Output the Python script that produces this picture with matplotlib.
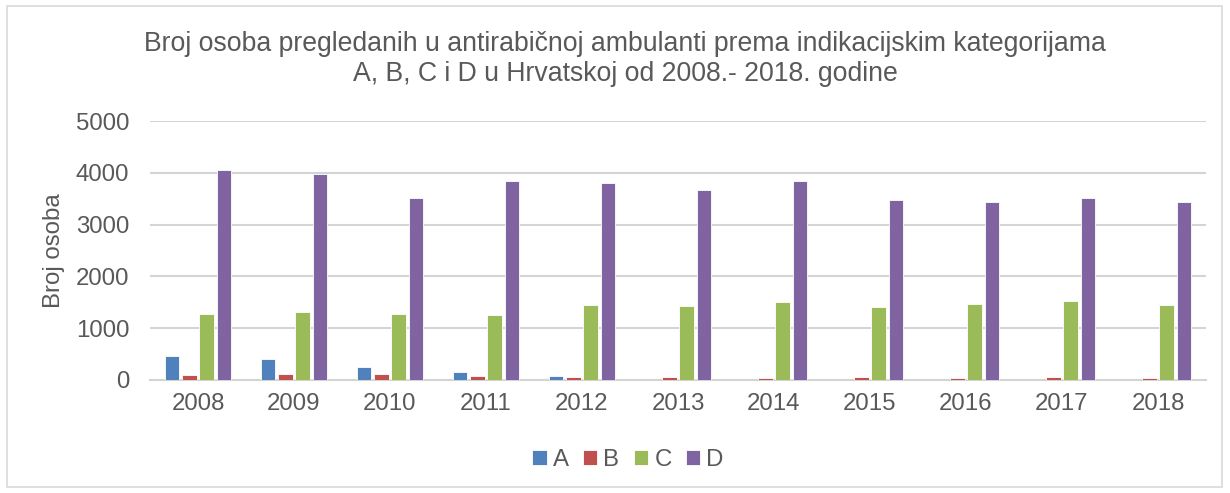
import matplotlib
matplotlib.use("Agg")
import matplotlib.pyplot as plt
import numpy as np
from matplotlib.patches import Rectangle

plt.rcParams['font.family'] = ['Liberation Sans', 'DejaVu Sans']

years = ['2008', '2009', '2010', '2011', '2012', '2013', '2014', '2015', '2016', '2017', '2018']
A = [470, 410, 248, 163, 78, 8, 3, 3, 3, 3, 3]
B = [105, 112, 112, 86, 60, 66, 46, 60, 46, 60, 40]
C = [1275, 1305, 1265, 1260, 1447, 1428, 1505, 1408, 1466, 1518, 1447]
D = [4060, 3980, 3505, 3840, 3810, 3675, 3835, 3480, 3440, 3512, 3428]
series = {'A': A, 'B': B, 'C': C, 'D': D}
colors = {'A': '#4F81BD', 'B': '#C0504D', 'C': '#9BBB59', 'D': '#8064A2'}

txt = '#595959'
fig = plt.figure(figsize=(12.3, 4.93), dpi=100)
fig.patches.append(Rectangle((7/1230, 1 - 487/493), 1215/1230, 481/493, transform=fig.transFigure,
                             fill=False, edgecolor='#D9D9D9', linewidth=1.2))
ax = fig.add_axes([150/1230, 1 - 380/493, 1056/1230, 259/493])

x = np.arange(len(years))
pitch = 0.18
width = 0.15
for i, (name, vals) in enumerate(series.items()):
    ax.bar(x + (i - 1.5) * pitch, vals, width=width, color=colors[name], label=name,
           edgecolor='white', linewidth=0.6, zorder=3)

ax.set_xlim(-0.5, len(years) - 0.5)
ax.set_ylim(0, 5000)
ax.set_yticks([0, 1000, 2000, 3000, 4000, 5000])
ax.set_xticks(x)
ax.set_xticklabels(years)
ax.grid(axis='y', color='#D4D4D4', linewidth=1.5, zorder=0)
ax.set_axisbelow(True)
for s in ['top', 'right', 'left']:
    ax.spines[s].set_visible(False)
ax.spines['bottom'].set_color('#D4D4D4')
ax.spines['bottom'].set_linewidth(1.5)
ax.tick_params(axis='both', length=0, labelsize=17.3, labelcolor=txt)
ax.tick_params(axis='y', pad=15)
ax.tick_params(axis='x', pad=9)
ax.set_ylabel('Broj osoba', fontsize=17.3, color=txt, labelpad=8)

fig.text(625/1230, 1 - 59/493,
         'Broj osoba pregledanih u antirabičnoj ambulanti prema indikacijskim kategorijama\nA, B, C i D u Hrvatskoj od 2008.- 2018. godine',
         ha='center', va='center', fontsize=19.2, color=txt, linespacing=1.2)

leg = fig.legend(loc='center', bbox_to_anchor=(628/1230, 1 - 460/493), ncol=4, frameon=False,
                 fontsize=17.3, handlelength=0.6, handleheight=0.6, handletextpad=0.25,
                 columnspacing=0.6)
for t in leg.get_texts():
    t.set_color(txt)

fig.savefig('out.png', dpi=100)
